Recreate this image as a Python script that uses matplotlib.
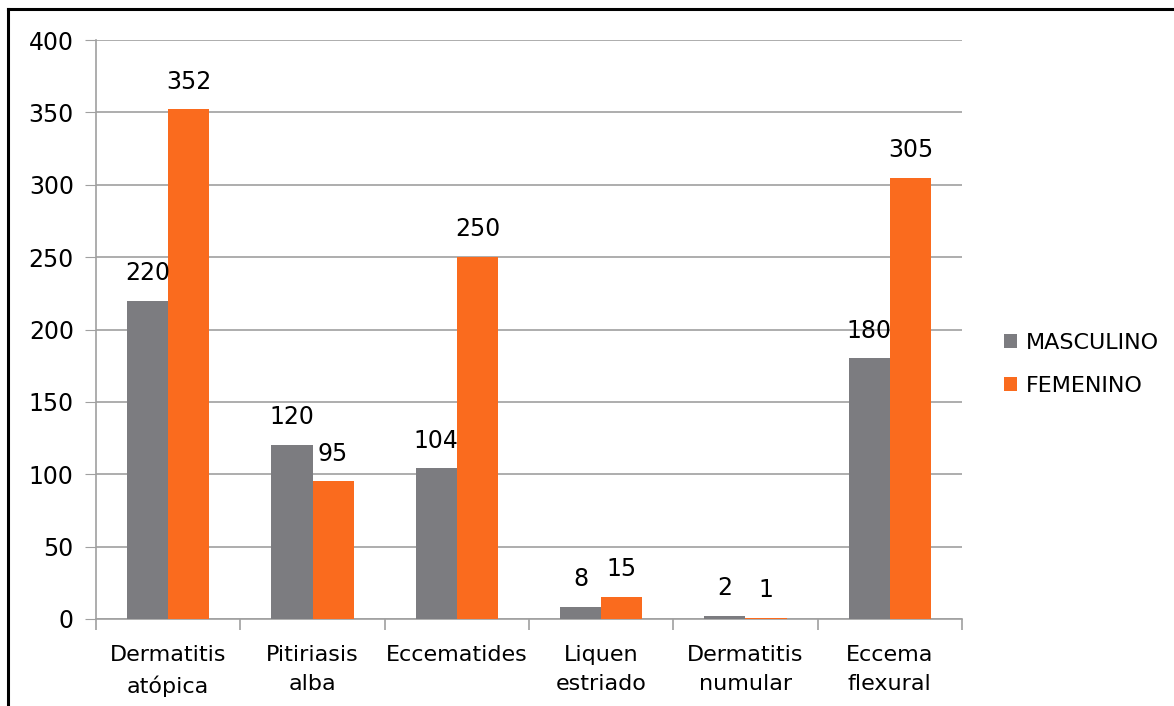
import matplotlib.pyplot as plt
import numpy as np

categorias = ["Dermatitis\natópica", "Pitiriasis\nalba", "Eccematides",
              "Liquen\nestriado", "Dermatitis\nnumular", "Eccema\nflexural"]
masculino = [220, 120, 104, 8, 2, 180]
femenino = [352, 95, 250, 15, 1, 305]

gris = "#7c7c80"
naranja = "#fa6b1e"

plt.rcParams['font.family'] = ['DejaVu Sans']

fig = plt.figure(figsize=(11.74, 7.06), dpi=100)
ax = fig.add_axes([96 / 1174, 1 - 619 / 706, (962 - 96) / 1174, (619 - 40) / 706])

x = np.arange(len(categorias))
w = 0.285
b1 = ax.bar(x - w / 2, masculino, w, color=gris, label="MASCULINO", zorder=3)
b2 = ax.bar(x + w / 2, femenino, w, color=naranja, label="FEMENINO", zorder=3)

for barras in (b1, b2):
    for b in barras:
        h = b.get_height()
        ax.text(b.get_x() + b.get_width() / 2, h + 11, f"{h:.0f}",
                ha="center", va="bottom", fontsize=17, zorder=4)

ax.set_xlim(-0.5, len(categorias) - 0.5)
ax.set_ylim(0, 400)
ax.set_yticks(range(0, 401, 50))
ax.yaxis.grid(True, color="#a0a0a0", lw=1.2, zorder=0)
ax.tick_params(axis="y", length=8, color="#a0a0a0", labelsize=17, pad=8)

# ticks del eje x en los límites entre categorías
ax.set_xticks(np.arange(-0.5, len(categorias), 1))
ax.set_xticklabels([])
ax.set_xticks(x, minor=True)
ax.set_xticklabels(categorias, minor=True, fontsize=16, linespacing=1.55)
ax.tick_params(axis="x", which="major", length=8, color="#a0a0a0", width=1.2)
ax.tick_params(axis="x", which="minor", length=0, pad=19)

for lado in ("top", "right"):
    ax.spines[lado].set_visible(False)
for lado in ("left", "bottom"):
    ax.spines[lado].set_color("#a0a0a0")
    ax.spines[lado].set_linewidth(1.2)

ax.legend(loc="center left", bbox_to_anchor=(1.025, 0.44), frameon=False,
          fontsize=16, handlelength=0.6, handleheight=0.6, labelspacing=1.05,
          handletextpad=0.4)

# marco de la figura
fig.add_artist(plt.Line2D([8 / 1174, 8 / 1174], [0, 1 - 9 / 706], color="black", lw=2.2))
fig.add_artist(plt.Line2D([8 / 1174, 1], [1 - 9 / 706, 1 - 9 / 706], color="black", lw=2.2))

fig.savefig("out.png", dpi=100)
